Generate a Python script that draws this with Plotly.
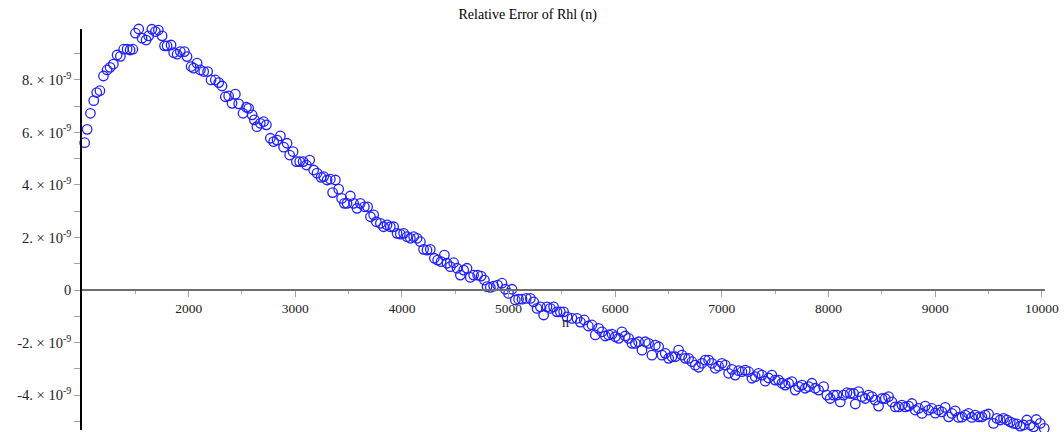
import plotly.graph_objects as go

# Sample sizes n and relative error of Rhl(n), in units of 1e-9
n = [
    1025, 1048, 1079, 1110, 1138, 1168, 1201, 1235, 1263, 1294,
    1329, 1360, 1391, 1423, 1451, 1477, 1501, 1532, 1563, 1601,
    1625, 1655, 1688, 1716, 1751, 1774, 1798, 1835, 1860, 1892,
    1922, 1960, 1985, 2023, 2047, 2079, 2110, 2141, 2178, 2210,
    2250, 2282, 2313, 2344, 2375, 2407, 2438, 2469, 2510, 2541,
    2563, 2595, 2616, 2640, 2672, 2703, 2729, 2766, 2797, 2829,
    2860, 2891, 2923, 2947, 2979, 3010, 3041, 3073, 3104, 3135,
    3172, 3204, 3242, 3266, 3298, 3329, 3350, 3376, 3407, 3435,
    3460, 3485, 3516, 3547, 3579, 3610, 3648, 3678, 3705, 3735,
    3760, 3798, 3828, 3860, 3891, 3922, 3954, 3985, 4016, 4048,
    4079, 4110, 4142, 4173, 4203, 4235, 4266, 4304, 4335, 4367,
    4398, 4423, 4454, 4485, 4517, 4548, 4579, 4610, 4641, 4672,
    4710, 4742, 4773, 4798, 4829, 4860, 4897, 4938, 4969, 5000,
    5032, 5063, 5094, 5126, 5166, 5204, 5235, 5267, 5298, 5329,
    5360, 5391, 5422, 5454, 5485, 5516, 5548, 5595, 5642, 5673,
    5710, 5748, 5782, 5813, 5844, 5876, 5907, 5938, 5970, 6001,
    6032, 6063, 6094, 6126, 6157, 6188, 6219, 6251, 6282, 6313,
    6344, 6376, 6407, 6438, 6469, 6501, 6532, 6563, 6594, 6626,
    6657, 6688, 6719, 6751, 6782, 6813, 6844, 6876, 6907, 6938,
    6969, 7001, 7032, 7063, 7094, 7125, 7157, 7188, 7219, 7250,
    7282, 7313, 7344, 7376, 7407, 7438, 7469, 7500, 7532, 7563,
    7594, 7626, 7657, 7688, 7719, 7751, 7782, 7813, 7844, 7876,
    7907, 7954, 7985, 8016, 8047, 8079, 8110, 8141, 8173, 8204,
    8235, 8251, 8282, 8313, 8344, 8376, 8407, 8438, 8469, 8501,
    8532, 8563, 8594, 8626, 8657, 8688, 8719, 8751, 8782, 8813,
    8844, 8876, 8907, 8938, 8969, 9001, 9032, 9063, 9094, 9126,
    9157, 9188, 9219, 9251, 9282, 9313, 9344, 9376, 9407, 9438,
    9469, 9501, 9547, 9579, 9610, 9641, 9673, 9704, 9735, 9767,
    9798, 9829, 9860, 9891, 9923, 9948, 9985, 10023,
]

rel_err_e9 = [
    5.61, 6.12, 6.73, 7.21, 7.52, 7.59, 8.15, 8.38, 8.48, 8.60,
    8.95, 8.90, 9.17, 9.17, 9.14, 9.17, 9.78, 9.94, 9.59, 9.52,
    9.68, 9.93, 9.84, 9.90, 9.68, 9.30, 9.30, 9.33, 9.04, 8.98,
    9.08, 9.08, 8.89, 8.51, 8.45, 8.64, 8.38, 8.32, 8.32, 8.00,
    8.00, 7.90, 7.77, 7.36, 7.39, 7.11, 7.46, 7.09, 6.73, 6.96,
    6.92, 6.67, 6.48, 6.22, 6.35, 6.41, 6.29, 5.78, 5.65, 5.71,
    5.87, 5.44, 5.59, 5.14, 5.27, 4.89, 4.89, 4.89, 4.76, 4.95,
    4.57, 4.45, 4.29, 4.32, 4.19, 4.22, 3.71, 4.19, 3.84, 3.49,
    3.30, 3.30, 3.58, 3.30, 3.11, 3.30, 3.17, 3.17, 2.79, 2.86,
    2.60, 2.54, 2.41, 2.48, 2.41, 2.41, 2.16, 2.13, 2.16, 2.03,
    1.97, 2.03, 1.97, 1.84, 1.55, 1.52, 1.55, 1.21, 1.14, 1.08,
    1.33, 1.02, 0.89, 1.04, 0.83, 0.57, 0.76, 0.83, 0.48, 0.57,
    0.57, 0.53, 0.38, 0.13, 0.10, 0.15, 0.19, 0.26, 0.03, -0.13,
    0.03, -0.38, -0.35, -0.35, -0.32, -0.32, -0.45, -0.70, -0.64, -0.95,
    -0.64, -0.70, -0.64, -0.83, -0.83, -0.83, -1.02, -1.08, -1.08, -1.22,
    -1.14, -1.37, -1.33, -1.71, -1.46, -1.59, -1.75, -1.71, -1.68, -1.78,
    -1.84, -1.59, -1.75, -1.84, -2.03, -2.03, -1.97, -2.29, -1.97, -2.03,
    -2.48, -2.10, -2.16, -2.48, -2.41, -2.60, -2.54, -2.54, -2.29, -2.48,
    -2.60, -2.60, -2.73, -2.86, -2.94, -2.79, -2.67, -2.67, -2.79, -2.98,
    -2.90, -2.79, -2.86, -3.17, -3.02, -3.24, -3.07, -3.11, -3.05, -3.11,
    -3.36, -3.30, -3.17, -3.24, -3.47, -3.35, -3.24, -3.43, -3.43, -3.55,
    -3.62, -3.55, -3.49, -3.81, -3.68, -3.62, -3.74, -3.68, -3.55, -3.74,
    -3.81, -3.68, -4.00, -4.13, -4.00, -4.00, -4.26, -4.00, -3.91, -3.94,
    -3.94, -4.34, -3.87, -4.06, -4.13, -4.00, -4.06, -4.19, -4.42, -4.13,
    -4.13, -4.06, -4.26, -4.45, -4.45, -4.38, -4.45, -4.42, -4.32, -4.57,
    -4.51, -4.70, -4.42, -4.57, -4.51, -4.69, -4.57, -4.64, -4.47, -4.83,
    -4.70, -4.60, -4.85, -4.84, -4.76, -4.70, -4.85, -4.76, -4.83, -4.83,
    -4.76, -4.72, -5.08, -4.89, -4.95, -4.89, -4.95, -5.02, -5.08, -5.10,
    -5.18, -5.14, -4.95, -5.14, -5.21, -4.93, -5.08, -5.27,
]

rel_err = [v * 1e-9 for v in rel_err_e9]

# Axis extents and tick labels
x_range = [1000, 10030]
y_range = [-5.33e-9, 9.94e-9]

x_ticks = [2000, 3000, 4000, 5000, 6000, 7000, 8000, 9000, 10000]
x_tick_text = [str(v) for v in x_ticks]
x_minor = [1500, 2500, 3500, 4500, 5500, 6500, 7500, 8500, 9500]

y_ticks = [-4e-9, -2e-9, 0, 2e-9, 4e-9, 6e-9, 8e-9]
y_tick_text = ["-4. × 10<sup>-9</sup>", "-2. × 10<sup>-9</sup>", "0",
               "2. × 10<sup>-9</sup>", "4. × 10<sup>-9</sup>",
               "6. × 10<sup>-9</sup>", "8. × 10<sup>-9</sup>"]
y_minor = [-5e-9, -3e-9, -1e-9, 1e-9, 3e-9, 5e-9, 7e-9, 9e-9]

SERIF = "Liberation Serif, Times New Roman, serif"
TICK_COLOR = "#9aab9a"

fig = go.Figure(
    go.Scatter(
        x=n,
        y=rel_err,
        mode="markers",
        cliponaxis=False,
        marker=dict(symbol="circle-open", size=9.5, color="#2020ff",
                    line=dict(width=1.3, color="#2020ff")),
        showlegend=False,
    )
)

# horizontal axis crosses the vertical one at zero
zero_pos = (0 - y_range[0]) / (y_range[1] - y_range[0])

fig.update_layout(
    width=1064,
    height=432,
    margin=dict(l=82, r=19, t=29, b=2),
    paper_bgcolor="white",
    plot_bgcolor="white",
    title=dict(text="Relative Error of Rhl (n)", font=dict(family=SERIF, size=14, color="black"),
               xref="container", x=0.496, yref="container", y=0.968,
               xanchor="center", yanchor="middle"),
    xaxis=dict(
        range=x_range, anchor="free", position=zero_pos,
        showgrid=False, zeroline=False,
        showline=True, linecolor="#6e6e6e", linewidth=2,
        ticks="outside", ticklen=6, tickwidth=1, tickcolor=TICK_COLOR,
        tickmode="array", tickvals=x_ticks, ticktext=x_tick_text,
        tickfont=dict(family=SERIF, size=13.5, color="#222"),
        minor=dict(ticks="outside", ticklen=3, tickwidth=1, tickcolor=TICK_COLOR,
                   tickvals=x_minor, showgrid=False),
    ),
    yaxis=dict(
        range=y_range,
        showgrid=False, zeroline=False,
        showline=True, linecolor="black", linewidth=1.5,
        ticks="outside", ticklen=6, tickwidth=1, tickcolor=TICK_COLOR,
        tickmode="array", tickvals=y_ticks, ticktext=y_tick_text,
        tickfont=dict(family=SERIF, size=14.5, color="#222"),
        minor=dict(ticks="outside", ticklen=6, tickwidth=1, tickcolor=TICK_COLOR,
                   tickvals=y_minor, showgrid=False),
    ),
    annotations=[
        dict(text="n", xref="paper", yref="paper", x=0.5016, y=0.267,
             showarrow=False, font=dict(family=SERIF, size=14, color="#222"),
             xanchor="center", yanchor="middle"),
    ],
)

fig.write_html("out.html")
